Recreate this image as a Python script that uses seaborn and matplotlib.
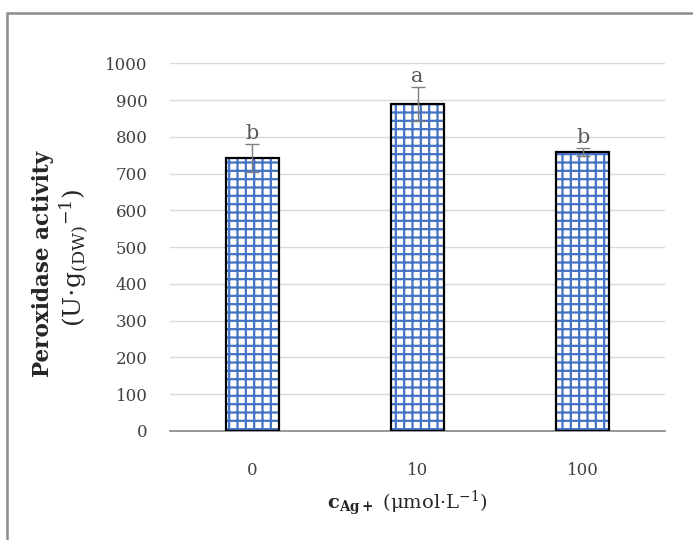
import numpy as np
import pandas as pd
import matplotlib
matplotlib.use('Agg')
import matplotlib.pyplot as plt
import seaborn as sns
from matplotlib.patches import Rectangle

# data
conc = ['0', '10', '100']
activity = [742, 889, 758]
err = [38, 46, 11]
letters = ['b', 'a', 'b']

df = pd.DataFrame({'conc': conc, 'activity': activity})

sns.set_style('white')
plt.rcParams['font.family'] = ['DejaVu Serif']
plt.rcParams['mathtext.fontset'] = 'dejavuserif'
plt.rcParams['hatch.linewidth'] = 1.6

fig = plt.figure(figsize=(6.93, 5.4), dpi=100)
ax = fig.add_axes([0.245, 0.2019, 0.715, 0.681])

# hatched fill (hatch colour follows edgecolor), then black outline on top
sns.barplot(data=df, x='conc', y='activity', color='white', edgecolor='#4472C4',
            linewidth=0, hatch='++', width=0.32, ax=ax, zorder=2)
sns.barplot(data=df, x='conc', y='activity', fill=False, edgecolor='black',
            linewidth=1.6, width=0.32, ax=ax, zorder=3)

xs = np.arange(len(conc))
ax.errorbar(xs, activity, yerr=err, fmt='none', ecolor='#7f7f7f',
            elinewidth=1.0, capsize=5, capthick=1.0, zorder=4)
for x, v, e, l in zip(xs, activity, err, letters):
    ax.text(x, v + e + 4, l, ha='center', va='bottom', fontsize=15, color='#595959')

ax.set_ylim(0, 1000)
ax.set_xlim(-0.5, 2.5)
ax.set_yticks(range(0, 1001, 100))
ax.yaxis.grid(True, color='#d9d9d9', linewidth=1)
ax.set_axisbelow(True)
for s in ['top', 'right', 'left']:
    ax.spines[s].set_visible(False)
ax.spines['bottom'].set_color('#868686')
ax.spines['bottom'].set_linewidth(1.2)
ax.tick_params(axis='both', length=0, labelsize=12, colors='#404040')
ax.tick_params(axis='x', pad=22)
ax.tick_params(axis='y', pad=16)
ax.set_xlabel('')
ax.set_ylabel('')

fig.text(0.062, 0.512, 'Peroxidase activity', rotation=90, ha='center', va='center',
         fontsize=15.5, fontweight='bold', color='#262626')
fig.text(0.106, 0.522, r'(U$\cdot$g$_{\mathrm{(DW)}}$$^{\mathrm{-1}}$)', rotation=90,
         ha='center', va='center', fontsize=18, color='#262626')
fig.text(0.588, 0.068, r'$\mathbf{c}_{\mathbf{Ag+}}$ (μmol·L$^{\mathrm{-1}}$)',
         ha='center', va='center', fontsize=14, color='#262626')

# outer frame (cropped at right and bottom)
fig.patches.append(Rectangle((7 / 693, -0.1), 1.2, 1 - 13 / 540 + 0.1,
                             transform=fig.transFigure, fill=False,
                             edgecolor='#8c8c8c', linewidth=1.8))

fig.savefig('out.png', dpi=100)
